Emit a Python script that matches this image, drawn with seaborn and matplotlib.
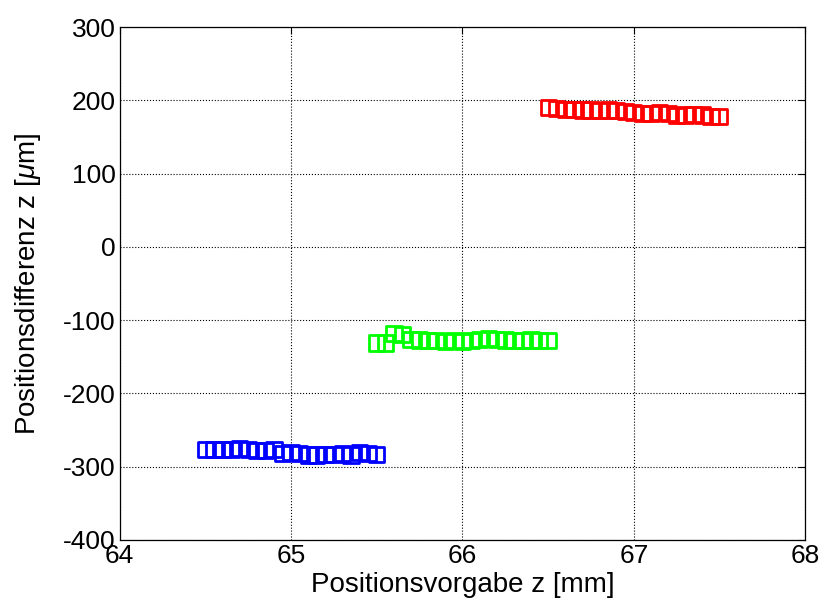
import numpy as np
import pandas as pd
import seaborn as sns
import matplotlib.pyplot as plt

# Positionsvorgabe z [mm] per series
x_blue = [64.50, 64.55, 64.60, 64.65, 64.70, 64.75, 64.80, 64.85, 64.90, 64.95, 65.00,
          65.05, 65.10, 65.15, 65.20, 65.25, 65.30, 65.35, 65.40, 65.45, 65.50]
x_green = [65.50, 65.55, 65.60, 65.65, 65.70, 65.75, 65.80, 65.85, 65.90, 65.95, 66.00,
           66.05, 66.10, 66.15, 66.20, 66.25, 66.30, 66.35, 66.40, 66.45, 66.50]
x_red = [66.50, 66.55, 66.60, 66.65, 66.70, 66.75, 66.80, 66.85, 66.90, 66.95, 67.00,
         67.05, 67.10, 67.15, 67.20, 67.25, 67.30, 67.35, 67.40, 67.45, 67.50]

# Positionsdifferenz z [um]
y_blue = [-276, -277, -277, -276, -275, -277, -278, -278, -276, -282, -281,
          -282, -284, -284, -283, -283, -282, -284, -281, -282, -283]
y_green = [-131, -131, -118, -120, -126, -127, -128, -128, -129, -128, -129,
           -128, -126, -125, -126, -127, -128, -128, -127, -128, -128]
y_red = [190, 189, 188, 188, 187, 187, 186, 187, 186, 185, 183,
         182, 182, 184, 182, 179, 180, 181, 180, 178, 178]

series = [(x_blue, y_blue, "#0000ff"), (x_green, y_green, "#00ff00"), (x_red, y_red, "#ff0000")]

sns.set_style("white")
plt.rcParams['font.family'] = ['Liberation Sans', 'DejaVu Sans']
plt.rcParams['mathtext.fontset'] = 'custom'
plt.rcParams['mathtext.it'] = 'Liberation Sans:italic'
plt.rcParams['axes.unicode_minus'] = False

fig = plt.figure(figsize=(8.2, 6.03), dpi=100)
ax = fig.add_axes([0.146, 0.1045, 0.836, 0.8505])

for xs, ys, col in series:
    df = pd.DataFrame({"x": xs, "y": ys})
    sns.scatterplot(data=df, x="x", y="y", ax=ax, marker="s", s=120,
                    facecolor="none", edgecolor=col, linewidth=2.0, zorder=3)

ax.set_xlim(64, 68)
ax.set_ylim(-400, 300)
ax.set_xticks([64, 65, 66, 67, 68])
ax.set_yticks(np.arange(-400, 301, 100))
ax.grid(True, color="black", linestyle=":", linewidth=0.8)
ax.set_axisbelow(True)
for sp in ax.spines.values():
    sp.set_color("black")
    sp.set_linewidth(0.9)
ax.tick_params(direction="in", length=5, labelsize=19, colors="black",
               top=True, right=True, pad=3)
ax.set_xlabel("Positionsvorgabe z [mm]", fontsize=20, color="black", labelpad=3)
ax.set_ylabel("Positionsdifferenz z [$\\mu$m]", fontsize=20, color="black", labelpad=14)

fig.savefig("out.png", dpi=100, facecolor="white")
